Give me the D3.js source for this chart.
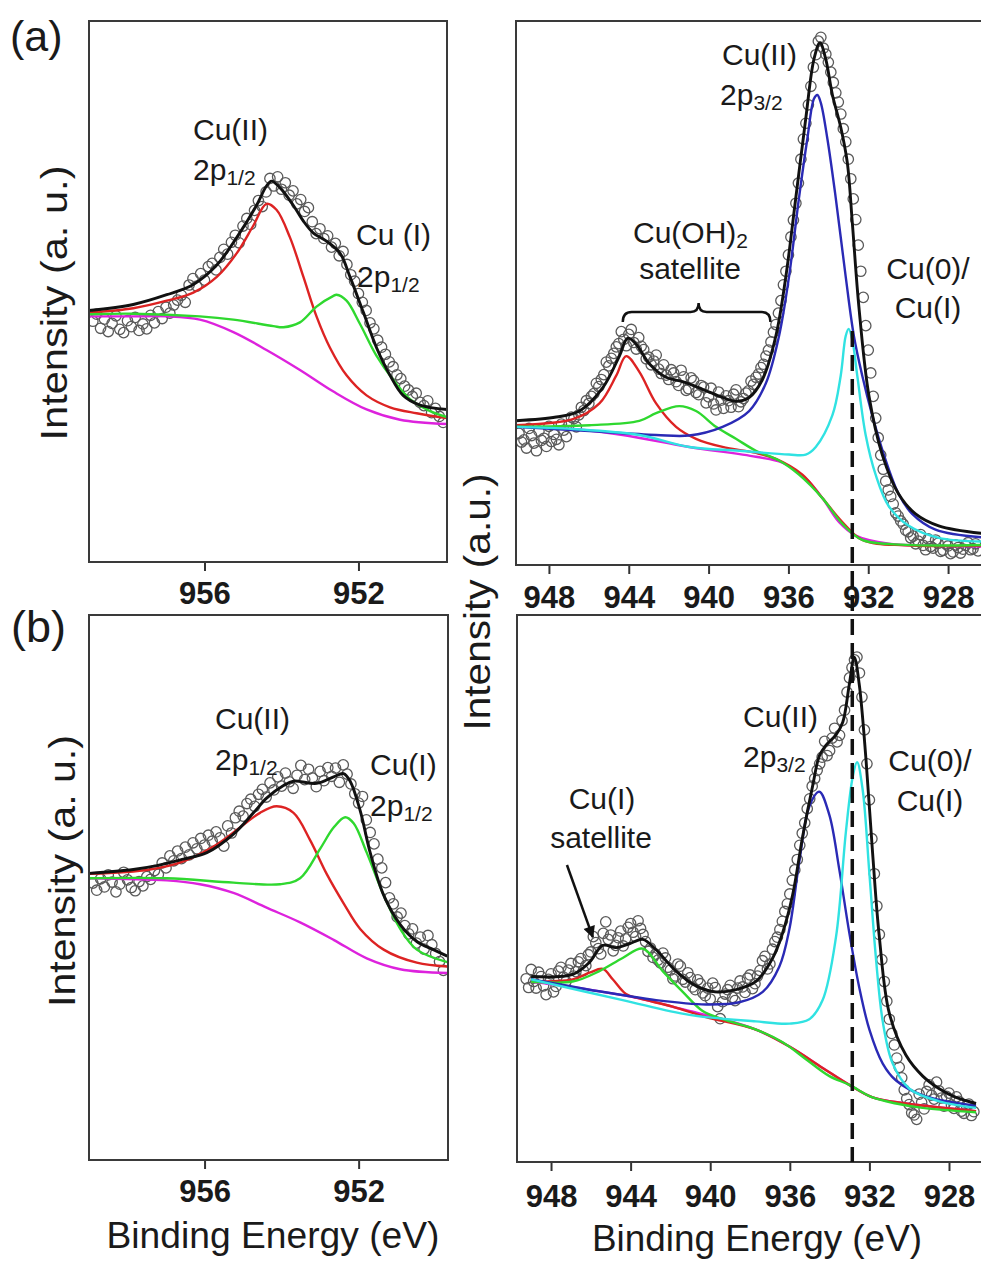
<!DOCTYPE html>
<html>
<head>
<meta charset="utf-8">
<script src="https://cdn.jsdelivr.net/npm/d3@7"></script>
<style>
  body { margin: 0; background: #fff; }
  svg { display: block; }
  text { font-family: "Liberation Sans", Arial, sans-serif; fill: #1a1a1a; }
</style>
</head>
<body>
<svg id="fig" width="981" height="1261"></svg>
<script>
// ---------- tick labels ----------
const ticksCu2p12 = [956, 952];
const ticksCu2p32 = [948, 944, 940, 936, 932, 928];

// ---------- (a) Cu 2p1/2 region : [binding energy eV, intensity a.u.] ----------
const aLeftRaw = [
  [958.9,44.5],[958.8,45.8],[958.7,43.2],[958.6,44.9],[958.5,42.6],[958.4,44.1],[958.3,45.5],[958.2,43.0],[958.1,42.4],[958.0,44.6],
  [957.9,43.5],[957.8,45.2],[957.7,42.8],[957.6,44.0],[957.5,43.1],[957.4,45.6],[957.3,44.2],[957.2,46.3],[957.1,45.0],[957.0,47.1],
  [956.9,46.0],[956.8,47.5],[956.7,48.4],[956.6,49.3],[956.5,48.0],[956.4,51.2],[956.3,52.4],[956.2,51.0],[956.1,53.3],[956.0,52.1],
  [955.9,54.6],[955.8,55.2],[955.7,54.0],[955.6,56.3],[955.5,57.8],[955.4,56.9],[955.3,59.1],[955.2,60.4],[955.1,59.0],[955.0,62.1],
  [954.9,63.5],[954.8,62.4],[954.7,65.0],[954.6,66.8],[954.5,65.7],[954.4,68.4],[954.3,70.9],[954.2,69.5],[954.1,71.2],[954.0,68.9],
  [953.9,70.1],[953.8,67.8],[953.7,68.6],[953.6,66.2],[953.5,67.0],[953.4,64.8],[953.3,65.5],[953.2,62.9],[953.1,60.7],[953.0,61.6],
  [952.9,59.8],[952.8,60.3],[952.7,58.2],[952.6,58.9],[952.5,56.6],[952.4,57.4],[952.3,55.0],[952.2,53.1],[952.1,51.9],[952.0,49.6],
  [951.9,48.0],[951.8,46.5],[951.7,44.2],[951.6,43.1],[951.5,41.0],[951.4,39.7],[951.3,38.4],[951.2,37.0],[951.1,36.1],[951.0,34.6],
  [950.9,33.9],[950.8,32.5],[950.7,31.8],[950.6,30.6],[950.5,31.2],[950.4,29.5],[950.3,28.9],[950.2,29.8],[950.1,27.6],[950.0,28.4],
  [949.9,26.9],[949.8,25.8]
];
const aLeftBackground = [[959.0,45.4],[957.85,45.4],[956.98,45.4],[956.12,44.8],[955.25,42.5],[954.39,39.2],[953.52,35.5],[952.65,31.5],[951.79,28.2],[950.92,26.3],[949.7,25.5]];
const aLeftCu1 = [[959.0,45.8],[957.85,45.9],[956.12,45.4],[955.25,44.8],[954.21,43.6],[953.95,43.4],[953.52,44.3],[953.09,47.2],[952.65,49.2],[952.57,49.4],[952.31,48.3],[951.96,44.0],[951.53,38.1],[951.1,33.7],[950.66,30.1],[950.14,27.9],[949.7,26.8]];
const aLeftCu2 = [[959.0,46.1],[957.85,46.9],[956.98,48.3],[956.29,49.8],[955.68,52.7],[955.16,57.1],[954.73,62.2],[954.39,66.2],[954.13,65.1],[953.78,60.0],[953.43,52.7],[953.09,45.4],[952.74,39.6],[952.31,34.5],[951.79,30.8],[951.18,28.6],[950.49,27.5],[949.7,26.6]];
const aLeftEnvelope = [[959.0,46.5],[957.85,47.6],[956.98,49.4],[956.29,51.3],[955.68,54.9],[955.16,60.0],[954.65,65.9],[954.39,69.5],[954.26,70.4],[954.04,69.2],[953.69,65.9],[953.43,63.0],[953.17,60.8],[952.83,59.3],[952.48,57.1],[952.22,52.7],[951.87,46.1],[951.53,39.6],[951.18,34.5],[950.84,30.8],[950.4,29.0],[949.7,28.2]];

// ---------- (a) Cu 2p3/2 region ----------
const aRightRaw = [
  [949.5,24.2],[949.375,22.6],[949.25,23.0],[949.125,21.5],[949.0,25.1],[948.875,23.8],[948.75,22.4],[948.625,21.0],[948.5,24.6],[948.375,22.9],
  [948.25,23.3],[948.125,21.8],[948.0,25.5],[947.875,22.7],[947.75,24.0],[947.625,23.1],[947.5,22.1],[947.375,25.9],[947.25,24.8],[947.125,23.6],
  [947.0,25.7],[946.875,27.2],[946.75,26.9],[946.625,25.4],[946.5,27.6],[946.375,29.0],[946.25,28.4],[946.125,30.2],[946.0,29.7],[945.875,31.0],
  [945.75,31.5],[945.625,33.4],[945.5,32.8],[945.375,34.1],[945.25,35.0],[945.125,37.3],[945.0,36.6],[944.875,38.0],[944.75,38.9],[944.625,40.1],
  [944.5,40.7],[944.375,42.9],[944.25,41.5],[944.125,40.3],[944.0,42.4],[943.875,43.3],[943.75,40.9],[943.625,39.7],[943.5,41.8],[943.375,40.2],
  [943.25,39.6],[943.125,37.9],[943.0,38.2],[942.875,36.8],[942.75,37.5],[942.625,38.6],[942.5,36.0],[942.375,35.2],[942.25,36.8],[942.125,34.9],
  [942.0,34.1],[941.875,35.9],[941.75,35.3],[941.625,33.7],[941.5,33.0],[941.375,35.8],[941.25,34.6],[941.125,32.1],[941.0,32.4],[940.875,34.4],
  [940.75,33.9],[940.625,31.7],[940.5,31.3],[940.375,33.0],[940.25,32.7],[940.125,29.8],[940.0,30.9],[939.875,32.5],[939.75,29.6],[939.625,28.5],
  [939.5,31.8],[939.375,30.3],[939.25,28.8],[939.125,31.1],[939.0,30.2],[938.875,29.0],[938.75,31.4],[938.625,32.2],[938.5,29.1],[938.375,30.0],
  [938.25,30.6],[938.125,31.6],[938.0,32.0],[937.875,33.8],[937.75,33.2],[937.625,34.5],[937.5,35.1],[937.375,36.3],[937.25,36.9],[937.125,38.4],
  [937.0,39.5],[936.875,41.0],[936.75,42.8],[936.625,44.2],[936.5,46.3],[936.375,48.6],[936.25,51.5],[936.125,54.0],[936.0,57.0],[935.875,60.3],
  [935.75,63.4],[935.625,66.5],[935.5,70.2],[935.375,74.6],[935.25,78.3],[935.125,81.2],[935.0,84.6],[934.875,88.0],[934.75,91.5],[934.625,93.8],
  [934.5,96.3],[934.375,97.0],[934.25,95.0],[934.125,93.9],[934.0,92.4],[933.875,90.6],[933.75,88.7],[933.625,86.8],[933.5,85.1],[933.375,82.9],
  [933.25,80.2],[933.125,77.8],[933.0,74.6],[932.875,71.0],[932.75,67.3],[932.625,63.5],[932.5,58.8],[932.375,54.0],[932.25,49.2],[932.125,44.0],
  [932.0,39.5],[931.875,35.3],[931.75,31.0],[931.625,27.0],[931.5,23.4],[931.375,20.2],[931.25,17.6],[931.125,15.4],[931.0,13.8],[930.875,12.6],
  [930.75,11.2],[930.625,9.6],[930.5,9.0],[930.375,8.1],[930.25,7.5],[930.125,6.4],[930.0,6.1],[929.875,5.0],[929.75,5.3],[929.625,3.9],
  [929.5,4.4],[929.375,5.6],[929.25,3.6],[929.125,2.8],[929.0,4.8],[928.875,3.4],[928.75,3.1],[928.625,4.6],[928.5,4.0],[928.375,2.5],
  [928.25,2.7],[928.125,3.9],[928.0,3.5],[927.875,2.1],[927.75,2.4],[927.625,3.7],[927.5,3.2],[927.375,2.2],[927.25,2.9],[927.125,3.6],
  [927.0,4.1],[926.875,2.8],[926.75,3.0],[926.625,3.9],[926.5,2.6]
];
const aRightBackground = [[949.67,25.4],[946.8,25.0],[944.3,23.9],[940.97,21.7],[937.63,19.9],[936.3,18.8],[935.13,15.9],[934.3,12.3],[933.47,7.9],[932.63,5.4],[930.97,3.9],[929.3,3.6],[926.05,3.4]];
const aRightSatA = [[949.67,25.7],[946.8,26.8],[945.47,29.7],[944.63,34.8],[944.13,38.4],[943.47,35.5],[942.63,29.7],[941.63,25.4],[940.63,23.2],[939.3,21.7],[937.63,20.6],[936.63,19.5],[935.3,16.6],[934.3,12.3],[933.3,7.9],[932.3,4.6],[930.13,3.6],[926.05,3.6]];
const aRightSatB = [[949.67,25.4],[945.97,25.7],[943.47,26.5],[942.63,27.9],[941.47,29.2],[940.63,28.3],[939.63,25.4],[938.63,23.2],[937.63,21.0],[936.47,19.2],[935.47,16.6],[934.3,12.3],[933.3,7.6],[932.3,4.6],[930.13,3.7],[926.05,3.7]];
const aRightCu2 = [[949.67,25.4],[945.97,24.6],[942.63,23.9],[940.97,23.8],[939.3,25.4],[937.97,28.3],[937.13,33.4],[936.47,42.1],[935.97,53.0],[935.47,67.5],[935.05,78.4],[934.72,85.7],[934.55,86.4],[934.38,85.0],[934.05,78.4],[933.63,67.5],[933.13,53.0],[932.72,42.1],[932.3,34.8],[931.8,27.5],[931.22,20.3],[930.47,13.0],[929.8,9.4],[928.63,6.5],[926.05,5.0]];
const aRightCu0 = [[949.67,25.4],[946.8,25.0],[943.47,23.9],[940.97,21.7],[938.47,21.0],[935.97,20.3],[935.13,20.3],[934.63,21.7],[933.8,27.5],[933.38,34.8],[933.13,42.1],[932.98,43.4],[932.8,41.4],[932.55,34.8],[932.13,23.9],[931.63,16.6],[930.97,10.8],[929.97,7.2],[928.47,5.0],[926.05,4.3]];
const aRightEnvelope = [[949.67,26.5],[947.63,27.2],[946.47,28.3],[945.3,32.6],[944.47,38.4],[944.05,41.7],[943.63,40.6],[942.97,37.0],[942.13,34.5],[941.3,33.7],[940.3,32.3],[939.3,30.8],[938.63,30.1],[937.97,30.8],[937.3,34.1],[936.63,42.1],[936.13,53.0],[935.63,67.5],[935.13,82.1],[934.72,93.0],[934.42,96.0],[934.13,93.0],[933.8,86.5],[933.38,80.5],[933.05,74.0],[932.8,63.0],[932.47,47.5],[931.97,31.2],[931.3,20.3],[930.47,13.0],[929.63,9.4],[928.47,7.2],[926.05,5.7]];

// ---------- (b) Cu 2p1/2 region ----------
const bLeftRaw = [
  [958.9,50.8],[958.8,49.5],[958.7,51.6],[958.6,50.1],[958.5,52.3],[958.4,51.0],[958.3,49.2],[958.2,50.6],[958.1,52.8],[958.0,51.4],
  [957.9,50.0],[957.8,49.4],[957.7,51.1],[957.6,50.3],[957.5,52.0],[957.4,51.5],[957.3,53.1],[957.2,52.4],[957.1,54.5],[957.0,53.6],
  [956.9,55.8],[956.8,54.9],[956.7,56.7],[956.6,55.3],[956.5,57.4],[956.4,56.0],[956.3,58.2],[956.2,57.1],[956.1,59.0],[956.0,57.8],
  [955.9,59.6],[955.8,58.5],[955.7,60.2],[955.6,59.1],[955.5,57.6],[955.4,61.3],[955.3,60.0],[955.2,62.8],[955.1,64.0],[955.0,63.1],
  [954.9,65.4],[954.8,66.2],[954.7,64.9],[954.6,67.1],[954.5,68.0],[954.4,66.6],[954.3,69.2],[954.2,67.9],[954.1,70.3],[954.0,68.6],
  [953.9,71.0],[953.8,69.4],[953.7,68.2],[953.6,70.6],[953.5,72.4],[953.4,69.8],[953.3,71.7],[953.2,70.1],[953.1,68.5],[953.0,71.3],
  [952.9,69.6],[952.8,72.0],[952.7,70.4],[952.6,71.9],[952.5,69.3],[952.4,72.5],[952.3,70.8],[952.2,69.0],[952.1,67.2],[952.0,65.5],
  [951.9,66.7],[951.8,62.4],[951.7,60.1],[951.6,58.0],[951.5,55.2],[951.4,53.6],[951.3,50.9],[951.2,48.1],[951.1,47.0],[951.0,44.6],
  [950.9,45.3],[950.8,43.0],[950.7,41.5],[950.6,42.4],[950.5,39.8],[950.4,40.9],[950.3,38.7],[950.2,41.2],[950.1,39.5],[950.0,37.9],
  [949.9,36.4],[949.8,34.8]
];
const bLeftBackground = [[959.0,51.7],[956.98,51.3],[956.12,50.6],[955.25,49.0],[954.39,46.3],[953.52,43.6],[952.65,40.4],[951.79,37.0],[950.92,35.0],[949.7,34.3]];
const bLeftCu2 = [[959.0,52.5],[957.42,53.3],[956.55,54.8],[955.68,57.9],[955.08,61.0],[954.56,63.7],[954.13,64.9],[953.69,63.7],[953.26,58.7],[952.83,52.5],[952.39,47.1],[951.96,42.4],[951.35,38.6],[950.49,36.2],[949.7,35.5]];
const bLeftCu1 = [[959.0,51.7],[956.98,51.7],[955.25,50.9],[954.04,50.6],[953.52,51.7],[953.0,57.1],[952.65,61.0],[952.35,62.9],[952.13,61.8],[951.79,56.4],[951.35,48.6],[950.92,42.4],[950.49,38.6],[949.7,36.3]];
const bLeftEnvelope = [[959.0,52.6],[957.85,53.3],[957.24,54.0],[956.55,55.2],[955.94,56.4],[955.25,59.8],[954.73,63.7],[954.39,66.4],[953.95,68.7],[953.69,69.5],[953.09,69.1],[952.65,70.3],[952.39,70.9],[952.22,69.5],[951.96,64.1],[951.7,56.4],[951.35,48.6],[950.92,43.2],[950.49,40.1],[950.06,38.6],[949.7,37.4]];

// ---------- (b) Cu 2p3/2 region ----------
const bRightRaw = [
  [949.25,33.5],[949.125,31.9],[949.0,35.2],[948.875,33.0],[948.75,31.8],[948.625,34.7],[948.5,33.9],[948.375,32.2],[948.25,30.6],[948.125,33.4],
  [948.0,34.4],[947.875,31.1],[947.75,32.1],[947.625,34.9],[947.5,35.6],[947.375,33.8],[947.25,33.0],[947.125,35.1],[947.0,36.3],[946.875,34.0],
  [946.75,34.8],[946.625,36.6],[946.5,37.2],[946.375,35.0],[946.25,35.9],[946.125,37.9],[946.0,38.4],[945.875,41.2],[945.75,40.1],[945.625,39.0],
  [945.5,38.0],[945.375,41.8],[945.25,43.9],[945.125,40.7],[945.0,41.5],[944.875,38.6],[944.75,39.6],[944.625,41.0],[944.5,42.2],[944.375,39.5],
  [944.25,40.8],[944.125,42.9],[944.0,43.6],[943.875,42.0],[943.75,41.2],[943.625,44.1],[943.5,42.7],[943.375,41.6],[943.25,40.3],[943.125,38.5],
  [943.0,39.1],[942.875,37.4],[942.75,38.0],[942.625,36.9],[942.5,36.4],[942.375,38.2],[942.25,37.3],[942.125,35.6],[942.0,35.1],[941.875,33.5],
  [941.75,34.0],[941.625,36.2],[941.5,35.8],[941.375,33.4],[941.25,32.9],[941.125,34.6],[941.0,33.7],[940.875,32.0],[940.75,31.5],[940.625,33.3],
  [940.5,32.6],[940.375,30.9],[940.25,30.4],[940.125,31.8],[940.0,29.8],[939.875,32.7],[939.75,31.9],[939.625,28.4],[939.5,26.2],[939.375,29.3],
  [939.25,30.7],[939.125,31.5],[939.0,32.3],[938.875,30.1],[938.75,29.5],[938.625,31.8],[938.5,33.1],[938.375,32.0],[938.25,31.0],[938.125,33.6],
  [938.0,34.2],[937.875,31.7],[937.75,32.6],[937.625,34.0],[937.5,35.0],[937.375,36.8],[937.25,37.6],[937.125,35.3],[937.0,36.2],[936.875,38.9],
  [936.75,40.3],[936.625,41.1],[936.5,42.5],[936.375,44.0],[936.25,45.8],[936.125,47.2],[936.0,49.0],[935.875,51.5],[935.75,53.4],[935.625,55.3],
  [935.5,57.9],[935.375,60.1],[935.25,62.0],[935.125,64.6],[935.0,66.4],[934.875,68.7],[934.75,70.1],[934.625,71.6],[934.5,72.8],[934.375,74.0],
  [934.25,76.9],[934.125,74.3],[934.0,75.2],[933.875,77.5],[933.75,79.3],[933.625,76.8],[933.5,78.0],[933.375,80.7],[933.25,82.6],[933.125,85.9],
  [933.0,88.5],[932.875,90.4],[932.75,91.8],[932.625,92.3],[932.5,89.4],[932.375,85.0],[932.25,79.0],[932.125,72.8],[932.0,66.2],[931.875,59.1],
  [931.75,52.7],[931.625,46.8],[931.5,41.6],[931.375,37.0],[931.25,33.0],[931.125,29.4],[931.0,26.1],[930.875,23.5],[930.75,21.4],[930.625,19.0],
  [930.5,17.3],[930.375,15.4],[930.25,13.2],[930.125,11.6],[930.0,10.5],[929.875,9.0],[929.75,8.6],[929.625,7.8],[929.5,12.4],[929.375,10.9],
  [929.25,9.7],[929.125,12.9],[929.0,14.1],[928.875,12.2],[928.75,11.5],[928.625,14.6],[928.5,13.0],[928.375,11.7],[928.25,10.2],[928.125,12.0],
  [928.0,12.6],[927.875,10.4],[927.75,9.8],[927.625,11.9],[927.5,11.1],[927.375,9.3],[927.25,8.9],[927.125,10.3],[927.0,10.6],[926.875,8.5],
  [926.75,9.2]
];
const bRightBackground = [[949.0,33.0],[946.07,31.5],[943.56,29.9],[941.05,27.6],[939.37,26.1],[937.7,24.2],[936.02,21.1],[934.35,17.2],[933.01,14.1],[931.84,11.8],[930.16,10.7],[926.64,9.3]];
const bRightSatA = [[949.0,33.0],[946.91,33.4],[946.07,34.6],[945.4,35.3],[944.9,33.4],[944.23,30.7],[943.56,29.9],[941.89,28.4],[940.21,26.5],[937.7,24.2],[936.02,21.1],[934.35,17.2],[933.01,14.1],[931.84,11.8],[930.16,10.7],[926.64,9.3]];
const bRightSatB = [[949.0,33.0],[946.91,33.0],[945.57,34.9],[944.4,37.3],[943.39,39.0],[942.39,34.9],[941.38,31.1],[940.38,27.6],[939.37,26.1],[937.7,24.2],[936.36,21.9],[935.19,18.8],[934.01,15.7],[933.01,14.1],[931.84,11.8],[930.66,10.7],[929.32,9.9],[926.64,9.1]];
const bRightCu2 = [[949.0,33.4],[946.07,31.5],[942.72,29.6],[940.21,28.8],[938.54,29.2],[937.36,31.1],[936.53,35.7],[936.02,42.6],[935.52,55.0],[935.02,65.0],[934.52,67.7],[934.01,63.4],[933.51,53.4],[933.01,41.9],[932.51,31.9],[932.0,24.2],[931.33,18.0],[930.66,14.9],[929.32,12.2],[926.64,10.3]];
const bRightCu0 = [[949.0,33.4],[944.4,29.6],[941.05,26.9],[937.7,25.7],[936.02,25.3],[935.02,26.1],[934.35,29.6],[933.68,41.1],[933.18,60.4],[932.84,70.4],[932.62,73.1],[932.34,68.1],[932.0,52.7],[931.67,37.2],[931.33,25.7],[930.83,18.0],[929.99,13.4],[928.49,11.1],[926.64,9.9]];
const bRightEnvelope = [[949.0,33.9],[946.91,34.3],[946.07,36.5],[945.4,39.6],[944.73,39.2],[944.06,39.9],[943.39,40.7],[942.72,38.8],[941.72,34.9],[940.71,32.2],[939.71,31.1],[938.7,31.5],[937.7,33.0],[936.86,37.3],[936.36,41.9],[935.86,48.8],[935.35,59.6],[934.85,68.8],[934.52,74.2],[934.18,76.2],[933.68,78.1],[933.34,80.4],[933.01,87.3],[932.76,92.3],[932.51,87.3],[932.17,73.5],[931.84,56.5],[931.5,41.1],[931.0,27.2],[930.16,19.5],[929.32,15.7],[928.49,13.4],[927.65,11.8],[926.64,10.7]];

// Cu(0)/Cu(I) reference position (eV)
const cu0Position = 932.8;

// ---------- drawing ----------
const svg = d3.select("#fig");
const defs = svg.append("defs");
defs.append("marker").attr("id", "arrowHead")
  .attr("viewBox", "0 0 10 10").attr("refX", 9).attr("refY", 5)
  .attr("markerWidth", 14).attr("markerHeight", 12).attr("markerUnits", "userSpaceOnUse")
  .attr("orient", "auto")
  .append("path").attr("d", "M0,0 L10,5 L0,10 Z").attr("fill", "#111");

const COLORS = { bg: "#dd22dd", red: "#dd2323", green: "#2fd82f", blue: "#2a2ab5", cyan: "#30e2e2", black: "#111" };

function makePanel(o) {
  const x = d3.scaleLinear().domain(o.energy).range([o.x0, o.x1]);
  const y = d3.scaleLinear().domain([0, 100]).range([o.y1, o.y0]);
  const g = svg.append("g");
  defs.append("clipPath").attr("id", o.id)
    .append("rect").attr("x", o.x0).attr("y", o.y0).attr("width", o.x1 - o.x0).attr("height", o.y1 - o.y0);

  const axis = d3.axisBottom(x).tickValues(o.ticks).tickSize(9).tickPadding(0).tickFormat(d3.format("d"));
  const ag = g.append("g").attr("transform", `translate(0,${o.y1})`).call(axis)
    .attr("font-family", "Liberation Sans, Arial, sans-serif").attr("font-size", 31).attr("font-weight", "bold");
  ag.select(".domain").remove();
  ag.selectAll(".tick line").attr("stroke", "#333").attr("stroke-width", 2);
  ag.selectAll(".tick text").attr("y", o.labelOffset).attr("dy", 0).attr("fill", "#111");

  const plot = g.append("g").attr("clip-path", `url(#${o.id})`);
  g.append("rect").attr("x", o.x0).attr("y", o.y0).attr("width", o.x1 - o.x0).attr("height", o.y1 - o.y0)
    .attr("fill", "none").attr("stroke", "#3a3a3a").attr("stroke-width", 2);
  return { x, y, g, plot };
}

function drawData(p, raw, curves) {
  p.plot.append("g").selectAll("circle").data(raw).join("circle")
    .attr("cx", d => p.x(d[0])).attr("cy", d => p.y(d[1])).attr("r", 5.2)
    .attr("fill", "none").attr("stroke", "#5a5a5a").attr("stroke-width", 1.3);
  const line = d3.line().x(d => p.x(d[0])).y(d => p.y(d[1])).curve(d3.curveCatmullRom.alpha(0.5));
  curves.forEach(c => {
    p.plot.append("path").datum(c.data).attr("d", line)
      .attr("fill", "none").attr("stroke", c.color).attr("stroke-width", c.width || 2.4)
      .attr("stroke-linejoin", "round");
  });
}

function note(x, y, main, sub, opts = {}) {
  const t = svg.append("text").attr("x", x).attr("y", y).attr("font-size", opts.size || 30)
    .attr("text-anchor", opts.anchor || "start");
  t.append("tspan").text(main);
  if (sub) t.append("tspan").attr("font-size", 21).attr("dy", 5).text(sub);
  return t;
}

// panels
const aL = makePanel({ id: "clipAL", x0: 89, x1: 447, y0: 21, y1: 562, energy: [959.0, 949.7], ticks: ticksCu2p12, labelOffset: 42 });
const aR = makePanel({ id: "clipAR", x0: 516, x1: 987, y0: 21, y1: 565, energy: [949.65, 926.05], ticks: ticksCu2p32, labelOffset: 43 });
const bL = makePanel({ id: "clipBL", x0: 89, x1: 448, y0: 615, y1: 1160, energy: [959.0, 949.68], ticks: ticksCu2p12, labelOffset: 42 });
const bR = makePanel({ id: "clipBR", x0: 517, x1: 988, y0: 615, y1: 1162, energy: [949.71, 926.04], ticks: ticksCu2p32, labelOffset: 45 });

drawData(aL, aLeftRaw, [
  { data: aLeftBackground, color: COLORS.bg },
  { data: aLeftCu2, color: COLORS.red },
  { data: aLeftCu1, color: COLORS.green },
  { data: aLeftEnvelope, color: COLORS.black, width: 2.9 }
]);
drawData(aR, aRightRaw, [
  { data: aRightBackground, color: COLORS.bg },
  { data: aRightSatA, color: COLORS.red },
  { data: aRightSatB, color: COLORS.green },
  { data: aRightCu2, color: COLORS.blue },
  { data: aRightCu0, color: COLORS.cyan },
  { data: aRightEnvelope, color: COLORS.black, width: 2.9 }
]);
drawData(bL, bLeftRaw, [
  { data: bLeftBackground, color: COLORS.bg },
  { data: bLeftCu2, color: COLORS.red },
  { data: bLeftCu1, color: COLORS.green },
  { data: bLeftEnvelope, color: COLORS.black, width: 2.9 }
]);
drawData(bR, bRightRaw, [
  { data: bRightBackground, color: COLORS.bg },
  { data: bRightSatA, color: COLORS.red },
  { data: bRightSatB, color: COLORS.green },
  { data: bRightCu2, color: COLORS.blue },
  { data: bRightCu0, color: COLORS.cyan },
  { data: bRightEnvelope, color: COLORS.black, width: 2.9 }
]);

// dashed marker for the Cu(0)/Cu(I) position, running through both 2p3/2 panels
svg.append("line")
  .attr("x1", aR.x(cu0Position)).attr("x2", aR.x(cu0Position))
  .attr("y1", aR.y(43)).attr("y2", bR.y(0))
  .attr("stroke", "#111").attr("stroke-width", 3.5).attr("stroke-dasharray", "16,8");

// bracket over the Cu(OH)2 satellite region
{
  const xa = aR.x(944.3), xb = aR.x(936.9), xm = aR.x(940.5), yb = aR.y(46.5);
  svg.append("path")
    .attr("d", `M${xa},${yb + 10} Q${xa},${yb} ${xa + 9},${yb} L${xm - 8},${yb} Q${xm},${yb} ${xm},${yb - 9} Q${xm},${yb} ${xm + 8},${yb} L${xb - 9},${yb} Q${xb},${yb} ${xb},${yb + 10}`)
    .attr("fill", "none").attr("stroke", "#111").attr("stroke-width", 2.5);
}

// arrow to the Cu(I) satellite
svg.append("line")
  .attr("x1", bR.x(947.2)).attr("y1", bR.y(54.3))
  .attr("x2", bR.x(945.9)).attr("y2", bR.y(41.1))
  .attr("stroke", "#111").attr("stroke-width", 2.5).attr("marker-end", "url(#arrowHead)");

// panel letters
svg.append("text").attr("x", 10).attr("y", 51).attr("font-size", 43).text("(a)");
svg.append("text").attr("x", 11).attr("y", 642).attr("font-size", 45).text("(b)");

// axis titles
function vTitle(x, y, len, str) {
  svg.append("text").attr("transform", `translate(${x},${y}) rotate(-90)`)
    .attr("text-anchor", "middle").attr("font-size", 36)
    .attr("textLength", len).attr("lengthAdjust", "spacingAndGlyphs").text(str);
}
vTitle(67, 303, 275, "Intensity (a. u.)");
vTitle(490, 602, 257, "Intensity (a.u.)");
vTitle(75, 871, 272, "Intensity (a. u.)");

function hTitle(x, y, len, str) {
  svg.append("text").attr("x", x).attr("y", y).attr("text-anchor", "middle").attr("font-size", 36)
    .attr("textLength", len).attr("lengthAdjust", "spacingAndGlyphs").text(str);
}
hTitle(273, 1248, 333, "Binding Energy (eV)");
hTitle(757, 1251, 330, "Binding Energy (eV)");

// peak annotations – (a)
note(193, 140, "Cu(II)");
note(193, 180, "2p", "1/2");
note(356, 245, "Cu (I)");
note(357, 287, "2p", "1/2");
note(722, 65, "Cu(II)");
note(720, 105, "2p", "3/2");
note(633, 243, "Cu(OH)", "2");
note(690, 279, "satellite", null, { anchor: "middle" });
note(928, 279, "Cu(0)/", null, { anchor: "middle" });
note(928, 318, "Cu(I)", null, { anchor: "middle" });

// peak annotations – (b)
note(215, 729, "Cu(II)");
note(215, 770, "2p", "1/2");
note(370, 775, "Cu(I)");
note(370, 816, "2p", "1/2");
note(743, 727, "Cu(II)");
note(743, 767, "2p", "3/2");
note(930, 771, "Cu(0)/", null, { anchor: "middle" });
note(930, 811, "Cu(I)", null, { anchor: "middle" });
note(602, 809, "Cu(I)", null, { anchor: "middle" });
note(601, 848, "satellite", null, { anchor: "middle" });
</script>
</body>
</html>
